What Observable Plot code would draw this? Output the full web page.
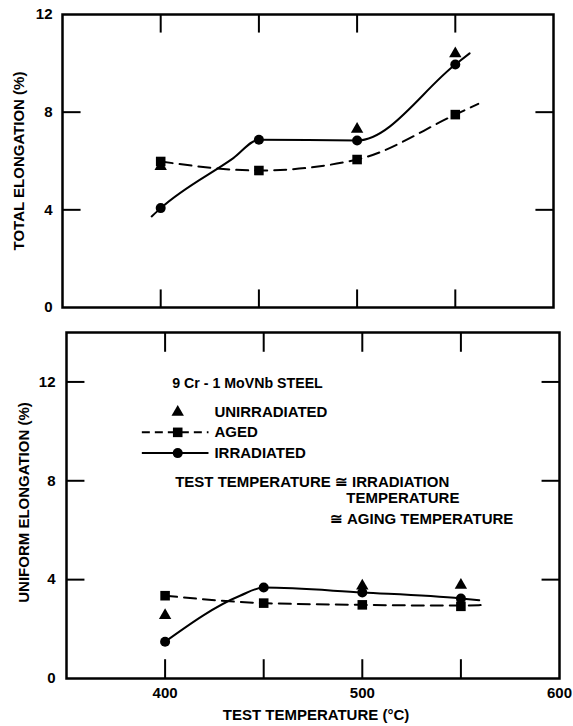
<!DOCTYPE html>
<html><head><meta charset="utf-8">
<script src="https://cdn.jsdelivr.net/npm/d3@7"></script>
<script src="https://cdn.jsdelivr.net/npm/@observablehq/plot@0.6"></script>
<style>
body{margin:0;background:#fff;}
#chart{width:573px;}
#chart svg{display:block;}
</style>
</head><body><div id="chart"></div>
<script>
// ---- data ----
const temperatures = [400, 450, 500, 550];

// Top panel: total elongation (%)
const totalUnirradiated = [5.78, null, 7.3, 10.4];
const totalAged = [5.98, 5.61, 6.06, 7.9];
const totalIrradiated = [4.07, 6.87, 6.84, 9.95];
// drawn fit curves
const totalIrrCurveT = [395.4, 400, 437, 450, 500, 550, 557.3];
const totalIrrCurveV = [3.73, 4.07, 6.12, 6.87, 6.84, 9.95, 10.41];
const totalAgedCurveT = [400, 450, 500, 550, 561.7];
const totalAgedCurveV = [5.98, 5.61, 6.06, 7.9, 8.34];

// Bottom panel: uniform elongation (%)
const uniformUnirradiated = [2.55, null, 3.75, 3.78];
const uniformAged = [3.35, 3.05, 2.98, 2.92];
const uniformIrradiated = [1.49, 3.68, 3.48, 3.24];
const uniformIrrCurveT = [400, 438, 450, 500, 550, 559.3];
const uniformIrrCurveV = [1.49, 3.35, 3.68, 3.48, 3.24, 3.17];
const uniformAgedCurveT = [400, 450, 500, 550, 560];
const uniformAgedCurveV = [3.35, 3.05, 2.98, 2.95, 2.97];

// ticks and labels
const xTicks = [400, 450, 500, 550];
const xTickLabels = [400, 500, 600];
const yTicks = [0, 4, 8, 12];
const legendLabels = ["UNIRRADIATED", "AGED", "IRRADIATED"];
const steelLabel = "9 Cr - 1 MoVNb STEEL";
const noteLines = ["TEST TEMPERATURE \u2245 IRRADIATION", "TEMPERATURE", "\u2245 AGING TEMPERATURE"];
const topYLabel = "TOTAL ELONGATION (%)";
const bottomYLabel = "UNIFORM ELONGATION (%)";
const xLabel = "TEST TEMPERATURE (\u00B0C)";

// ---- helpers ----
const pts = (ts, vs) => ts.map((t, i) => ({t, v: vs[i]})).filter(d => d.v != null);
const font = {fontFamily: "'Liberation Sans', Arial, sans-serif", fontSize: "15px", fontWeight: "bold", background: "white", color: "black"};

function tickMarks(yMax, innerY, lenX, lenY) {
  const b = xTicks.map(t => ({x1: t, x2: t, y1: 0, y2: lenY}));
  const tp = xTicks.map(t => ({x1: t, x2: t, y1: yMax, y2: yMax - lenY}));
  const l = innerY.map(y => ({x1: 350, x2: 350 + lenX, y1: y, y2: y}));
  const r = innerY.map(y => ({x1: 600, x2: 600 - lenX, y1: y, y2: y}));
  return Plot.link([...b, ...tp, ...l, ...r], {x1: "x1", x2: "x2", y1: "y1", y2: "y2", stroke: "black", strokeWidth: 2});
}

function seriesMarks(unirr, aged, irr, irrCurve, agedCurve) {
  return [
    Plot.line(agedCurve, {x: "t", y: "v", curve: "monotone-x", stroke: "black", strokeWidth: 2, strokeDasharray: "12,7"}),
    Plot.line(irrCurve, {x: "t", y: "v", curve: "monotone-x", stroke: "black", strokeWidth: 2}),
    Plot.dot(unirr, {x: "t", y: "v", symbol: "triangle", r: 4.6, fill: "black", stroke: "none"}),
    Plot.dot(aged, {x: "t", y: "v", symbol: "square", r: 5.4, fill: "black", stroke: "none"}),
    Plot.dot(irr, {x: "t", y: "v", symbol: "circle", r: 5, fill: "black", stroke: "none"})
  ];
}

// ---- top panel ----
const topChart = Plot.plot({
  width: 573, height: 320,
  marginTop: 14, marginBottom: 13, marginLeft: 62, marginRight: 20,
  style: font,
  x: {domain: [350, 600], axis: null},
  y: {domain: [0, 12], axis: null},
  marks: [
    Plot.axisY(yTicks, {anchor: "left", tickSize: 0, tickPadding: 10, label: null, tickFormat: d => String(d)}),
    tickMarks(12, [4, 8], 9.2, 0.74),
    ...seriesMarks(pts(temperatures, totalUnirradiated), pts(temperatures, totalAged), pts(temperatures, totalIrradiated),
      pts(totalIrrCurveT, totalIrrCurveV), pts(totalAgedCurveT, totalAgedCurveV)),
    Plot.text([topYLabel], {text: d => d, frameAnchor: "left", textAnchor: "middle", lineAnchor: "middle", rotate: -90, dx: -43}),
    Plot.frame({stroke: "black", strokeWidth: 2.5})
  ]
});

// ---- bottom panel ----
const legendRowsY = [10.78, 9.96, 9.12];
const bottomChart = Plot.plot({
  width: 573, height: 406,
  marginTop: 12, marginBottom: 48, marginLeft: 66, marginRight: 14,
  style: font,
  x: {domain: [350, 600], axis: null},
  y: {domain: [0, 14], axis: null},
  marks: [
    Plot.axisY(yTicks, {anchor: "left", tickSize: 0, tickPadding: 11, label: null, tickFormat: d => String(d)}),
    Plot.axisX(xTickLabels, {anchor: "bottom", tickSize: 0, tickPadding: 9, label: null, tickFormat: d => String(d)}),
    tickMarks(14, [4, 8, 12], 9.1, 0.78),
    ...seriesMarks(pts(temperatures, uniformUnirradiated), pts(temperatures, uniformAged), pts(temperatures, uniformIrradiated),
      pts(uniformIrrCurveT, uniformIrrCurveV), pts(uniformAgedCurveT, uniformAgedCurveV)),
    // legend
    Plot.text([steelLabel], {text: d => d, x: 403.6, y: 11.95, textAnchor: "start", fontSize: 14.2}),
    Plot.link([0], {x1: 388.2, x2: 422, y1: legendRowsY[1], y2: legendRowsY[1], stroke: "black", strokeWidth: 2, strokeDasharray: "8,5"}),
    Plot.link([0], {x1: 388.2, x2: 422, y1: legendRowsY[2], y2: legendRowsY[2], stroke: "black", strokeWidth: 2}),
    Plot.dot([0], {x: 406.4, y: legendRowsY[0], symbol: "triangle", r: 4.6, fill: "black", stroke: "none"}),
    Plot.dot([0], {x: 406.4, y: legendRowsY[1], symbol: "square", r: 5.4, fill: "black", stroke: "none"}),
    Plot.dot([0], {x: 406.4, y: legendRowsY[2], symbol: "circle", r: 5, fill: "black", stroke: "none"}),
    Plot.text(legendLabels, {text: d => d, x: 425, y: (d, i) => legendRowsY[i], textAnchor: "start"}),
    Plot.text([noteLines[0]], {text: d => d, x: 405.1, y: 7.95, textAnchor: "start"}),
    Plot.text([noteLines[1]], {text: d => d, x: 491.9, y: 7.3, textAnchor: "start"}),
    Plot.text([noteLines[2]], {text: d => d, x: 483.8, y: 6.46, textAnchor: "start"}),
    Plot.text([bottomYLabel], {text: d => d, frameAnchor: "left", textAnchor: "middle", lineAnchor: "middle", rotate: -90, dx: -42, dy: -3}),
    Plot.text([xLabel], {text: d => d, frameAnchor: "bottom", textAnchor: "middle", lineAnchor: "middle", dy: 37, dx: 3}),
    Plot.frame({stroke: "black", strokeWidth: 2.5})
  ]
});

document.getElementById("chart").append(topChart, bottomChart);
</script>
</body></html>
